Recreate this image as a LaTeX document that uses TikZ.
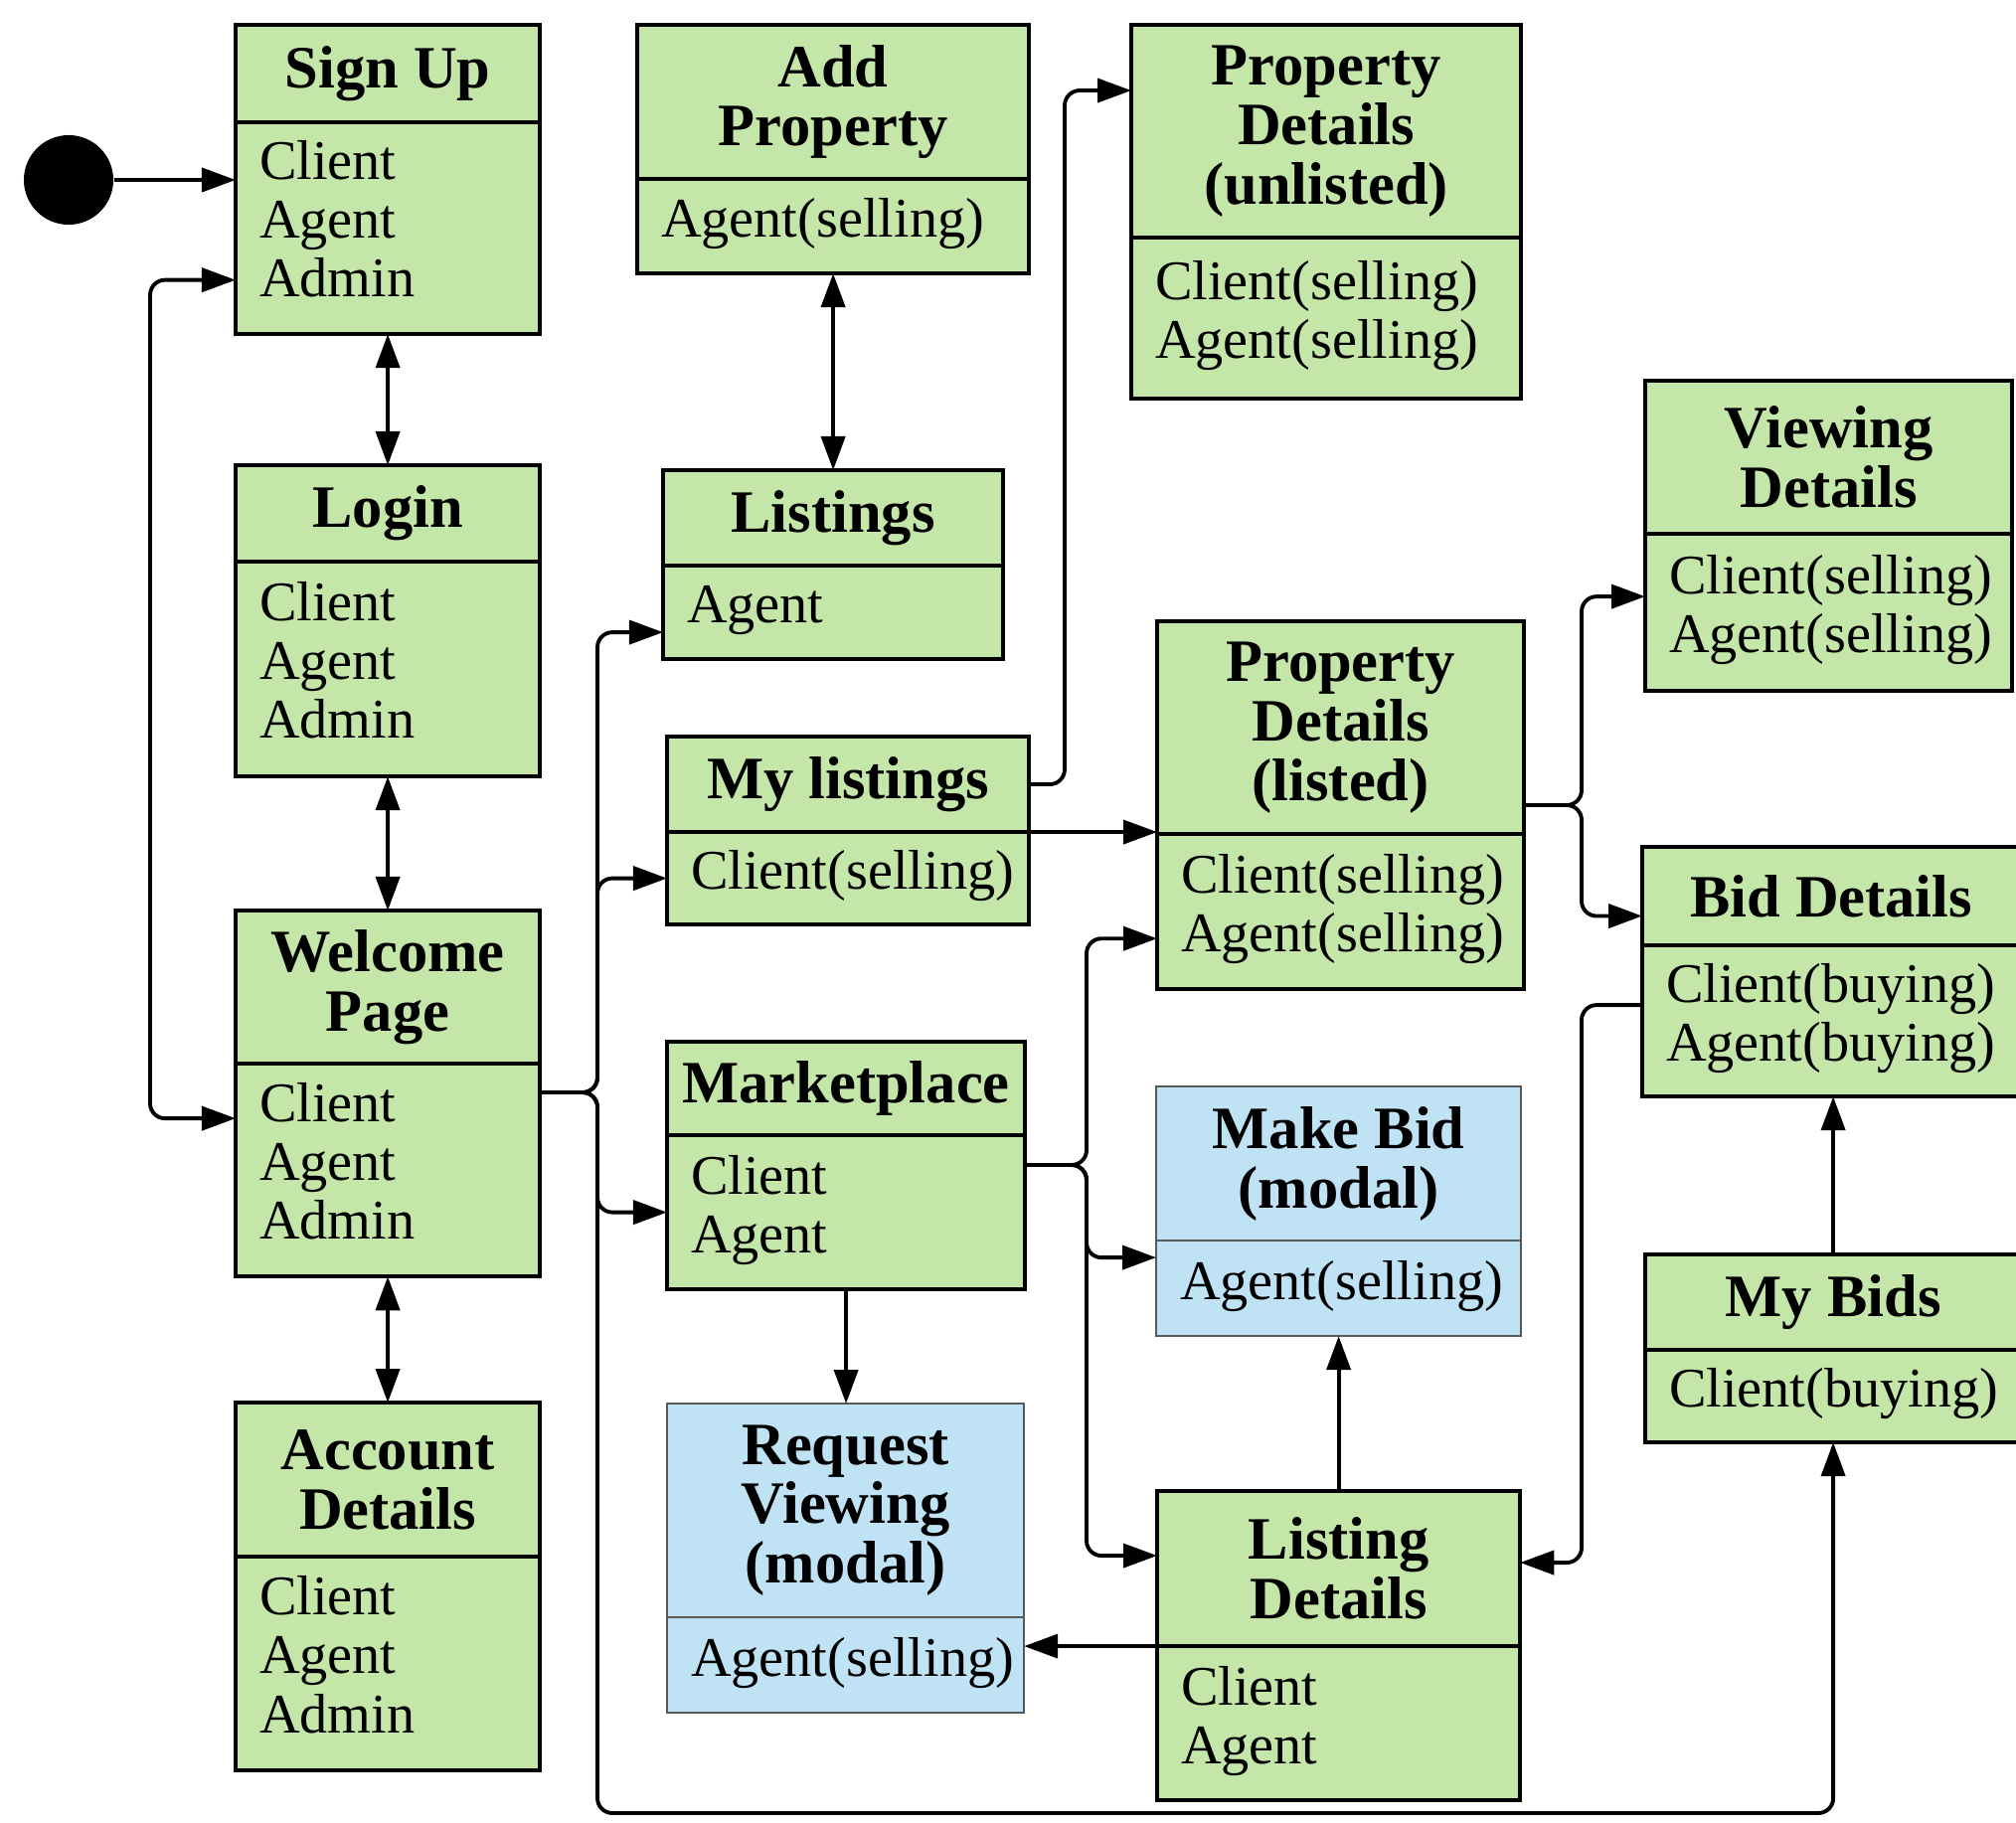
\documentclass[tikz,border=0pt]{standalone}
\usepackage{fontspec}
\setmainfont{Liberation Serif}
\usetikzlibrary{arrows.meta, positioning, calc}
\definecolor{stategreen}{RGB}{197, 230, 169}
\definecolor{modalblue}{RGB}{191, 227, 245}
\tikzset{
  hdr/.style 2 args={rectangle, draw=black, fill=stategreen, line width=1.1pt, outer sep=0pt, anchor=north west, minimum width=#1, minimum height=#2, inner sep=0pt, align=center, font=\fontsize{17.2}{17}\selectfont\bfseries},
  bdy/.style 2 args={rectangle, draw=black, fill=stategreen, line width=1.1pt, outer sep=0pt, text width=#1, minimum height=#2, inner xsep=0.24cm, inner ysep=0pt, align=left, font=\fontsize{16}{16.8}\selectfont, lift=0.05cm},
  lift/.style={execute at end node={\par\kern#1}},
  modal/.style={fill=modalblue, draw=black!65, line width=0.6pt},
  startdot/.style={circle, fill=black, minimum size=0.9cm, inner sep=0pt},
  conn/.style={line width=1.1pt, rounded corners=0.15cm},
}
\begin{document}
\begin{tikzpicture}[x=0.01cm, y=-0.01cm, >={Triangle[length=0.34cm, width=0.24cm]}]
\useasboundingbox (0,0) rectangle (2028,1833);
\node[startdot] (start) at (69,181) {};
\node[hdr={3.06cm}{0.98cm}] (signup) at (237,25) {Sign Up};
\node[bdy={2.58cm}{2.13cm}, lift=0.13cm, below=0pt of signup] (signup-b) {Client\\Agent\\Admin};
\node[hdr={3.94cm}{1.55cm}] (addprop) at (641,25) {Add\\Property};
\node[bdy={3.46cm}{0.95cm}, below=0pt of addprop] (addprop-b) {Agent(selling)};
\node[hdr={3.92cm}{2.14cm}] (unlisted) at (1138,25) {Property\\Details\\(unlisted)};
\node[bdy={3.44cm}{1.62cm}, below=0pt of unlisted] (unlisted-b) {Client(selling)\\Agent(selling)};
\node[hdr={3.06cm}{0.97cm}] (login) at (237,468) {Login};
\node[bdy={2.58cm}{2.16cm}, lift=0.13cm, below=0pt of login] (login-b) {Client\\Agent\\Admin};
\node[hdr={3.42cm}{0.96cm}] (listings) at (667,473) {Listings};
\node[bdy={2.94cm}{0.94cm}, lift=0cm, below=0pt of listings] (listings-b) {Agent};
\node[hdr={3.69cm}{1.54cm}] (viewing) at (1655,383) {Viewing\\Details};
\node[bdy={3.21cm}{1.58cm}, below=0pt of viewing] (viewing-b) {Client(selling)\\Agent(selling)};
\node[hdr={3.64cm}{0.96cm}] (mylist) at (671,741) {My listings};
\node[bdy={3.16cm}{0.93cm}, below=0pt of mylist] (mylist-b) {Client(selling)};
\node[hdr={3.69cm}{2.14cm}] (listed) at (1164,625) {Property\\Details\\(listed)};
\node[bdy={3.21cm}{1.56cm}, below=0pt of listed] (listed-b) {Client(selling)\\Agent(selling)};
\node[hdr={3.06cm}{1.54cm}] (welcome) at (237,916) {Welcome\\Page};
\node[bdy={2.58cm}{2.14cm}, lift=0.13cm, below=0pt of welcome] (welcome-b) {Client\\Agent\\Admin};
\node[hdr={3.80cm}{0.99cm}] (bid) at (1652,852) {Bid Details};
\node[bdy={3.32cm}{1.52cm}, below=0pt of bid] (bid-b) {Client(buying)\\Agent(buying)};
\node[hdr={3.60cm}{0.94cm}] (market) at (671,1048) {Marketplace};
\node[bdy={3.12cm}{1.55cm}, below=0pt of market] (market-b) {Client\\Agent};
\node[hdr={3.67cm}{1.55cm}, modal] (makebid) at (1163,1093) {Make Bid\\(modal)};
\node[bdy={3.19cm}{0.96cm}, modal, below=0pt of makebid] (makebid-b) {Agent(selling)};
\node[hdr={3.78cm}{0.96cm}] (mybids) at (1655,1262) {My Bids};
\node[bdy={3.30cm}{0.93cm}, below=0pt of mybids] (mybids-b) {Client(buying)};
\node[hdr={3.06cm}{1.55cm}] (account) at (237,1411) {Account\\Details};
\node[bdy={2.58cm}{2.15cm}, lift=0.13cm, below=0pt of account] (account-b) {Client\\Agent\\Admin};
\node[hdr={3.59cm}{2.15cm}, modal] (reqview) at (671,1412) {Request\\Viewing\\(modal)};
\node[bdy={3.11cm}{0.96cm}, modal, below=0pt of reqview] (reqview-b) {Agent(selling)};
\node[hdr={3.65cm}{1.56cm}] (listdet) at (1164,1500) {Listing\\Details};
\node[bdy={3.17cm}{1.55cm}, below=0pt of listdet] (listdet-b) {Client\\Agent};

\coordinate (wloop) at (151,700);
\coordinate (wbus) at (601,1099);
\coordinate (wbot) at (601,1824);
\coordinate (mlbus) at (1071,400);
\coordinate (mbus) at (1093,1172);
\coordinate (lbus) at (1591,810);
\coordinate (bbus) at (1591,1300);

\draw[conn, ->] (start) -- (start -| signup-b.west);
\draw[conn, <->] (signup-b.south) -- (login.north);
\draw[conn, <->] (login-b.south) -- (welcome.north);
\draw[conn, <->] (welcome-b.south) -- (account.north);
\draw[conn, <->] (addprop-b.south) -- (addprop-b.south |- listings.north);
\draw[conn, <->] ([yshift=0.52cm]welcome-b.west) -| (wloop) |- ([yshift=-0.52cm]signup-b.west);
\draw[conn, ->] (wbus -| welcome-b.east) -- (wbus) |- ([yshift=-0.2cm]listings-b.west);
\draw[conn, ->] (wbus -| welcome-b.east) -- (wbus) |- (mylist-b.west);
\draw[conn, ->] (wbus -| welcome-b.east) -- (wbus) |- (market-b.west);
\draw[conn, ->] (wbus -| welcome-b.east) -- (wbus) -- (wbot) -| (mybids-b.south);
\draw[conn, ->] (mylist.east) -| (mlbus) |- ([yshift=0.41cm]unlisted.west);
\draw[conn, ->] (mylist-b.north east) -- (mylist-b.north east -| listed-b.west);
\draw[conn, ->] (mbus -| market-b.east) -- (mbus) |- ([yshift=-0.27cm]listed-b.west);
\draw[conn, ->] (mbus -| market-b.east) -- (mbus) |- ([yshift=0.31cm]makebid-b.west);
\draw[conn, ->] (mbus -| market-b.east) -- (mbus) |- ([yshift=0.13cm]listdet.west);
\draw[conn, ->] (market-b.south) -- (market-b.south |- reqview.north);
\draw[conn, ->] (listdet.north) -- (listdet.north |- makebid-b.south);
\draw[conn, ->] (listdet-b.north west) -- (listdet-b.north west -| reqview-b.east);
\draw[conn, ->] (lbus -| listed.east) -- (lbus) |- ([yshift=0.16cm]viewing-b.west);
\draw[conn, ->] (lbus -| listed.east) -- (lbus) |- ([yshift=-0.2cm]bid.west);
\draw[conn, ->] ([yshift=0.16cm]bid-b.west) -| (bbus) |- ([yshift=0.06cm]listdet.east);
\draw[conn, ->] (mybids.north) -- (mybids.north |- bid-b.south);
\end{tikzpicture}
\end{document}
